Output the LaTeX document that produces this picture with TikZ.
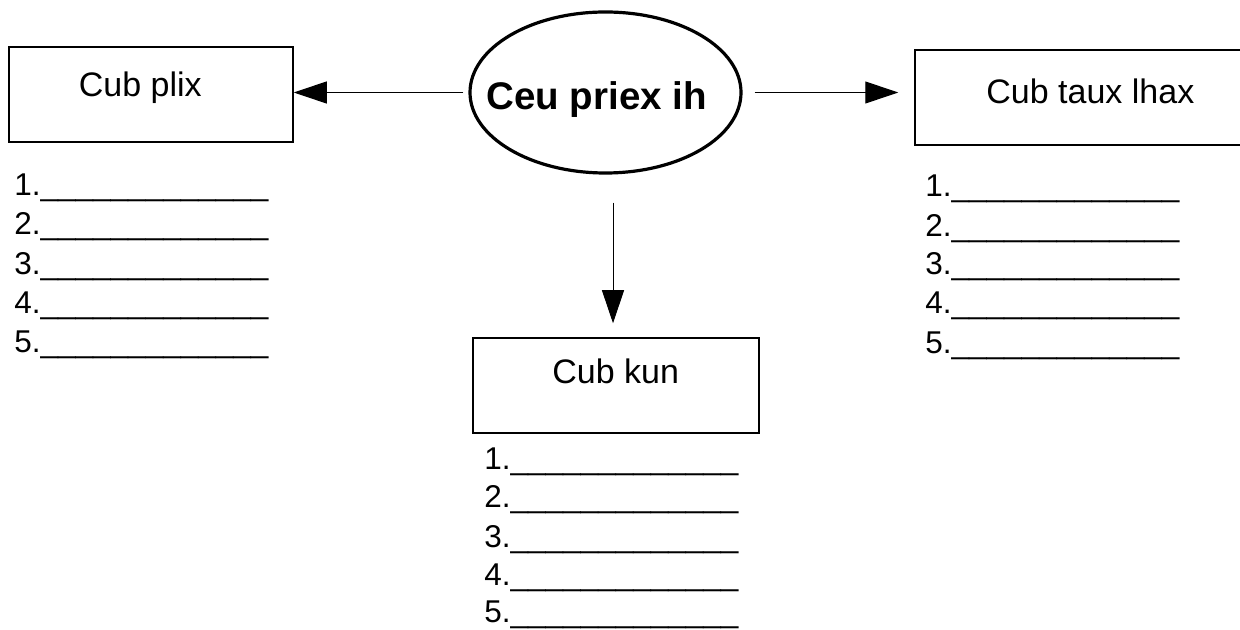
\documentclass[tikz,border=0pt]{standalone}
\usepackage{fontspec}
\setmainfont{Liberation Sans}
\usetikzlibrary{arrows.meta,shapes.geometric}
\newcommand\myblank{\_\_\_\_\_\_\_\_\_\_\_\_\_}
\begin{document}
\begin{tikzpicture}[x=0.5pt,y=-0.5pt,
  box/.style={draw, line width=0.75pt, rectangle, inner sep=0},
  boxtxt/.style={anchor=base west, inner sep=0, font=\fontsize{17}{20}\selectfont},
  listtxt/.style={anchor=base west, inner sep=0, font=\fontsize{15.75}{19.5}\selectfont},
  maintxt/.style={anchor=base west, inner sep=0, font=\fontsize{19.25}{23}\selectfont\bfseries},
  arr/.style={line width=0.5pt, -{Triangle[length=16.5pt,width=11pt]}}]
\useasboundingbox (0,0) rectangle (1240,630);
\clip (0,0) rectangle (1240,630);
\fill[white] (0,0) rectangle (1240,630);
% boxes
\node[box, minimum width=142pt, minimum height=47.5pt] (lbox) at (151,94.5) {};
\node[box, minimum width=143pt, minimum height=47.5pt] (cbox) at (616,385.5) {};
\node[box, minimum width=175pt, minimum height=47.5pt] (rbox) at (1090,97.5) {};
\node[draw, ellipse, line width=1.6pt, inner sep=0, minimum width=135.5pt, minimum height=80.5pt] (ell) at (605.5,92.5) {};
% texts
\node[boxtxt] (tl) at (78.5,97) {Cub plix};
\node[boxtxt] (tc) at (552,383) {Cub kun};
\node[boxtxt] (tr) at (986,104) {Cub taux lhax};
\node[maintxt] (tm) at (486,110) {Ceu priex ih};
% arrows
\draw[arr, shorten <=2.5pt] (ell.west) -- (ell.west -| lbox.east);
\draw[arr, shorten <=6pt, shorten >=8pt] (ell.east) -- (ell.east -| rbox.west);
\draw[arr, shorten <=14pt, shorten >=7pt] ([xshift=3.75pt]ell.south) -- ([xshift=3.75pt]ell.south |- cbox.north);
% lists
\foreach \i/\y in {1/196,2/235,3/275,4/314,5/352}
  \node[listtxt] (la\i) at (14,\y) {\i.\myblank};
\foreach \i/\y in {1/197,2/237,3/275,4/314,5/353}
  \node[listtxt] (lr\i) at (925,\y) {\i.\myblank};
\foreach \i/\y in {1/469,2/507,3/547,4/585,5/622}
  \node[listtxt] (lc\i) at (484,\y) {\i.\myblank};
\end{tikzpicture}
\end{document}
